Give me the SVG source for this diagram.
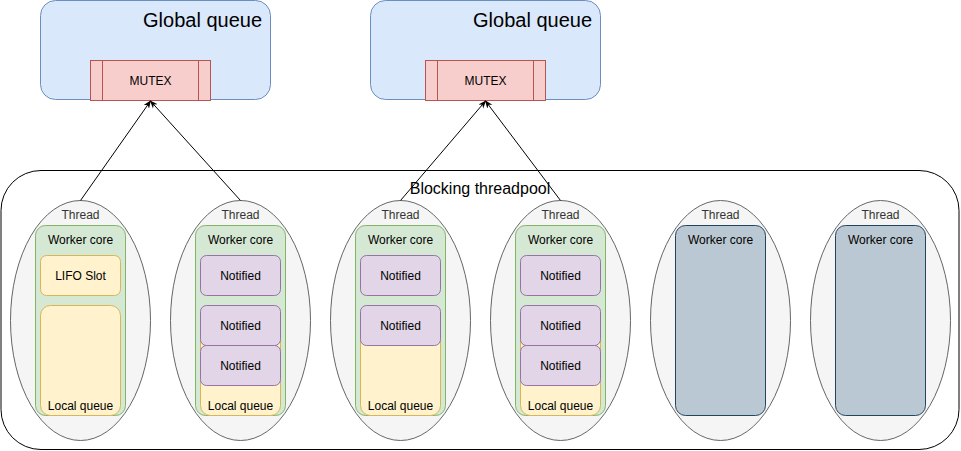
<svg xmlns="http://www.w3.org/2000/svg" width="961" height="451" viewBox="0 0 961 451">
<style>
text{font-family:"Liberation Sans",Arial,sans-serif;text-anchor:middle}
.gq{fill:#dae8fc;stroke:#6c8ebf}
.mx{fill:#f8cecc;stroke:#b85450}
.th{fill:#f5f5f5;stroke:#666666}
.wc{fill:#d5e8d4;stroke:#82b366}
.wcb{fill:#bac8d3;stroke:#23445d}
.yl{fill:#fff2cc;stroke:#d6b656}
.nt{fill:#e1d5e7;stroke:#9673a6}
.t12{font-size:12px;fill:#000}
.tt{font-size:12px;fill:#333333}
.big{font-size:20px;fill:#000;text-anchor:end}
.conn{stroke:#000;stroke-width:1;fill:none;marker-end:url(#arr)}
</style>
<defs>
<marker id="arr" viewBox="0 0 10 10" refX="9" refY="5" markerWidth="8" markerHeight="8" orient="auto" markerUnits="userSpaceOnUse">
<path d="M0,1 L10,5 L0,9 L3,5 Z" fill="#000"/>
</marker>
</defs>
<rect width="961" height="451" fill="#fff"/>
<g id="global-queue-1">
<rect class="gq" x="40.5" y="0.5" width="230" height="99" rx="15"/>
<text class="big" x="262" y="27">Global queue</text>
</g>
<g id="mutex-1">
<rect class="mx" x="90.5" y="60.5" width="120" height="40"/>
<line class="mx" x1="102.5" y1="60.5" x2="102.5" y2="100.5"/>
<line class="mx" x1="198.5" y1="60.5" x2="198.5" y2="100.5"/>
<text class="t12" x="150.5" y="85">MUTEX</text>
</g>
<g id="global-queue-2">
<rect class="gq" x="370.5" y="0.5" width="230" height="99" rx="15"/>
<text class="big" x="592" y="27">Global queue</text>
</g>
<g id="mutex-2">
<rect class="mx" x="425.5" y="60.5" width="120" height="40"/>
<line class="mx" x1="437.5" y1="60.5" x2="437.5" y2="100.5"/>
<line class="mx" x1="533.5" y1="60.5" x2="533.5" y2="100.5"/>
<text class="t12" x="485.5" y="85">MUTEX</text>
</g>
<g id="blocking-threadpool">
<rect x="1" y="170.5" width="958" height="279" rx="40" fill="#fff" stroke="#000"/>
<text x="480" y="194" style="font-size:16px;fill:#000">Blocking threadpool</text>
</g>
<g id="thread-1">
<ellipse class="th" cx="80.5" cy="320.5" rx="70" ry="120"/>
<text class="tt" x="80.5" y="219">Thread</text>
<rect class="wc" x="35.5" y="225.5" width="90" height="190" rx="10"/>
<text class="t12" x="80.5" y="244">Worker core</text>
<rect class="yl" x="40.5" y="255.5" width="80" height="40" rx="6"/>
<text class="t12" x="80.5" y="280">LIFO Slot</text>
<rect class="yl" x="40.5" y="305.5" width="80" height="110" rx="10"/>
<text class="t12" x="80.5" y="410">Local queue</text>
</g>
<g id="thread-2">
<ellipse class="th" cx="240.5" cy="320.5" rx="70" ry="120"/>
<text class="tt" x="240.5" y="219">Thread</text>
<rect class="wc" x="195.5" y="225.5" width="90" height="190" rx="10"/>
<text class="t12" x="240.5" y="244">Worker core</text>
<rect class="yl" x="200.5" y="305.5" width="80" height="110" rx="10"/>
<text class="t12" x="240.5" y="410">Local queue</text>
<rect class="nt" x="200.5" y="255.5" width="80" height="40" rx="6"/>
<text class="t12" x="240.5" y="280">Notified</text>
<rect class="nt" x="200.5" y="305.5" width="80" height="40" rx="6"/>
<text class="t12" x="240.5" y="330">Notified</text>
<rect class="nt" x="200.5" y="345.5" width="80" height="40" rx="6"/>
<text class="t12" x="240.5" y="370">Notified</text>
</g>
<g id="thread-3">
<ellipse class="th" cx="400.5" cy="320.5" rx="70" ry="120"/>
<text class="tt" x="400.5" y="219">Thread</text>
<rect class="wc" x="355.5" y="225.5" width="90" height="190" rx="10"/>
<text class="t12" x="400.5" y="244">Worker core</text>
<rect class="yl" x="360.5" y="305.5" width="80" height="110" rx="10"/>
<text class="t12" x="400.5" y="410">Local queue</text>
<rect class="nt" x="360.5" y="255.5" width="80" height="40" rx="6"/>
<text class="t12" x="400.5" y="280">Notified</text>
<rect class="nt" x="360.5" y="305.5" width="80" height="40" rx="6"/>
<text class="t12" x="400.5" y="330">Notified</text>
</g>
<g id="thread-4">
<ellipse class="th" cx="560.5" cy="320.5" rx="70" ry="120"/>
<text class="tt" x="560.5" y="219">Thread</text>
<rect class="wc" x="515.5" y="225.5" width="90" height="190" rx="10"/>
<text class="t12" x="560.5" y="244">Worker core</text>
<rect class="yl" x="520.5" y="305.5" width="80" height="110" rx="10"/>
<text class="t12" x="560.5" y="410">Local queue</text>
<rect class="nt" x="520.5" y="255.5" width="80" height="40" rx="6"/>
<text class="t12" x="560.5" y="280">Notified</text>
<rect class="nt" x="520.5" y="305.5" width="80" height="40" rx="6"/>
<text class="t12" x="560.5" y="330">Notified</text>
<rect class="nt" x="520.5" y="345.5" width="80" height="40" rx="6"/>
<text class="t12" x="560.5" y="370">Notified</text>
</g>
<g id="thread-5">
<ellipse class="th" cx="720.5" cy="320.5" rx="70" ry="120"/>
<text class="tt" x="720.5" y="219">Thread</text>
<rect class="wcb" x="675.5" y="225.5" width="90" height="190" rx="10"/>
<text class="t12" x="720.5" y="244">Worker core</text>
</g>
<g id="thread-6">
<ellipse class="th" cx="880.5" cy="320.5" rx="70" ry="120"/>
<text class="tt" x="880.5" y="219">Thread</text>
<rect class="wcb" x="835.5" y="225.5" width="90" height="190" rx="10"/>
<text class="t12" x="880.5" y="244">Worker core</text>
</g>
<g id="connectors">
<line class="conn" x1="80.5" y1="200.5" x2="150.5" y2="101"/>
<line class="conn" x1="240.5" y1="200.5" x2="150.5" y2="101"/>
<line class="conn" x1="400.5" y1="200.5" x2="485.5" y2="101"/>
<line class="conn" x1="560.5" y1="200.5" x2="485.5" y2="101"/>
</g>
</svg>
